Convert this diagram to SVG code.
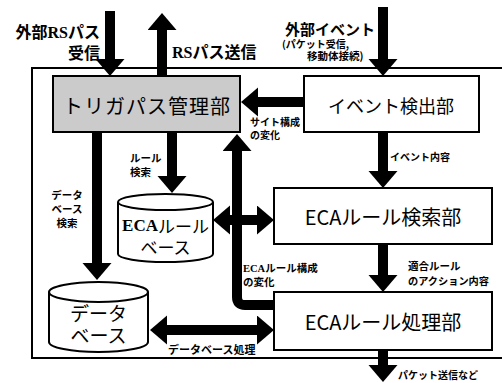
<svg xmlns="http://www.w3.org/2000/svg" width="502" height="383" viewBox="0 0 502 383">
<style>
.box{fill:#fff;stroke:#000;stroke-width:2}
.gray{fill:#cbcbcb}
.cyl{fill:#fff;stroke:#000;stroke-width:2}
.frame{fill:none;stroke:#000;stroke-width:2}
.ar{fill:none;stroke:#000;stroke-width:10}
.big{font-family:"Noto Sans CJK JP","Noto Sans",sans-serif;font-size:20px;fill:#000;text-anchor:middle;dominant-baseline:central}
.lbl{font-family:"Noto Sans CJK JP","Noto Sans",sans-serif;font-size:10.5px;font-weight:bold;fill:#000}
.top{font-family:"Noto Sans CJK JP","Noto Sans",sans-serif;font-size:16px;font-weight:bold;fill:#000}
.ser{font-family:"Liberation Serif","Noto Sans CJK JP",serif;font-weight:bold}
</style>
<defs>
<marker id="ah" markerUnits="userSpaceOnUse" markerWidth="18" markerHeight="30" viewBox="0 0 18 30" refX="7" refY="14.5" orient="auto-start-reverse">
<path d="M0,0 L17,14.5 L0,29 Z" fill="#000"/>
</marker>
</defs>
<rect width="502" height="383" fill="#fff"/>
<polyline class="frame" points="502,68 32,68 32,358 502,358"/>

<g id="trigger">
<rect class="box gray" x="53" y="76" width="187" height="56"/>
<text class="big" x="147" y="105" style="letter-spacing:1px">トリガパス管理部</text>
</g>
<g id="event">
<rect class="box" x="304" y="76" width="175" height="56"/>
<text class="big" x="391" y="105" style="font-size:18px">イベント検出部</text>
</g>
<g id="search">
<rect class="box" x="274" y="188" width="218" height="56"/>
<text class="big" x="383" y="216">ECAルール検索部</text>
</g>
<g id="process">
<rect class="box" x="274" y="292" width="218" height="58"/>
<text class="big" x="383" y="321">ECAルール処理部</text>
</g>
<g id="ecabase">
<path class="cyl" d="M118,202 A47.5,8 0 0 1 213,202 V254 A47.5,8 0 0 1 118,254 Z"/>
<path class="cyl" d="M118,202 A47.5,8 0 0 0 213,202" fill="none"/>
<text class="big" x="165.5" y="225" style="font-size:17px"><tspan class="ser">ECA</tspan>ルール</text>
<text class="big" x="165.5" y="246" style="font-size:17px">ベース</text>
</g>
<g id="database">
<path class="cyl" d="M49,292 A49.5,10 0 0 1 148,292 V342 A49.5,10 0 0 1 49,342 Z"/>
<path class="cyl" d="M49,292 A49.5,10 0 0 0 148,292" fill="none"/>
<text class="big" x="98.5" y="312" style="font-size:19px">データ</text>
<text class="big" x="98.5" y="334" style="font-size:19px">ベース</text>
</g>

<g id="connectors">
<line class="ar" x1="110" y1="11" x2="110" y2="66" marker-end="url(#ah)"/>
<line class="ar" x1="162" y1="76" x2="162" y2="23" marker-end="url(#ah)"/>
<line class="ar" x1="383" y1="7" x2="383" y2="66" marker-end="url(#ah)"/>
<line class="ar" x1="304" y1="102" x2="251" y2="102" marker-end="url(#ah)"/>
<line class="ar" x1="383" y1="132" x2="383" y2="178" marker-end="url(#ah)"/>
<line class="ar" x1="383" y1="244" x2="383" y2="282" marker-end="url(#ah)"/>
<line class="ar" x1="383" y1="350" x2="383" y2="372" marker-end="url(#ah)"/>
<line class="ar" x1="97" y1="132" x2="97" y2="270" marker-end="url(#ah)"/>
<line class="ar" x1="172" y1="132" x2="172" y2="183" marker-end="url(#ah)"/>
<line class="ar" x1="223" y1="220" x2="264" y2="220" marker-start="url(#ah)" marker-end="url(#ah)"/>
<path class="ar" d="M274,305 H245 Q237,305 237,297 V144" marker-end="url(#ah)"/>
<line class="ar" x1="160" y1="330" x2="264" y2="330" marker-start="url(#ah)" marker-end="url(#ah)"/>
</g>

<g id="labels">
<text class="top" x="100" y="38" text-anchor="end">外部<tspan class="ser">RS</tspan>パス</text>
<text class="top" x="100" y="59" text-anchor="end">受信</text>
<text class="top" x="172" y="58"><tspan class="ser">RS</tspan>パス送信</text>
<text class="top" x="285" y="35" style="font-size:15px">外部イベント</text>
<text class="lbl" x="282" y="48" style="font-size:10px">(パケット受信,</text>
<text class="lbl" x="307" y="60">移動体接続)</text>
<text class="lbl" x="250" y="126" style="font-size:10px">サイト構成</text>
<text class="lbl" x="250" y="139" style="font-size:10px">の変化</text>
<text class="lbl" x="130" y="162">ルール</text>
<text class="lbl" x="130" y="176">検索</text>
<text class="lbl" x="67" y="199" text-anchor="middle">データ</text>
<text class="lbl" x="67" y="213" text-anchor="middle">ベース</text>
<text class="lbl" x="67" y="227" text-anchor="middle">検索</text>
<text class="lbl" x="390" y="161" style="font-size:10px">イベント内容</text>
<text class="lbl" x="243" y="272"><tspan class="ser">ECA</tspan>ルール構成</text>
<text class="lbl" x="243" y="286">の変化</text>
<text class="lbl" x="408" y="270">適合ルール</text>
<text class="lbl" x="408" y="285" style="font-size:10.2px">のアクション内容</text>
<text class="lbl" x="168" y="354" style="font-size:11px">データベース処理</text>
<text class="lbl" x="398" y="379" style="font-size:10px">パケット送信など</text>
</g>
</svg>
